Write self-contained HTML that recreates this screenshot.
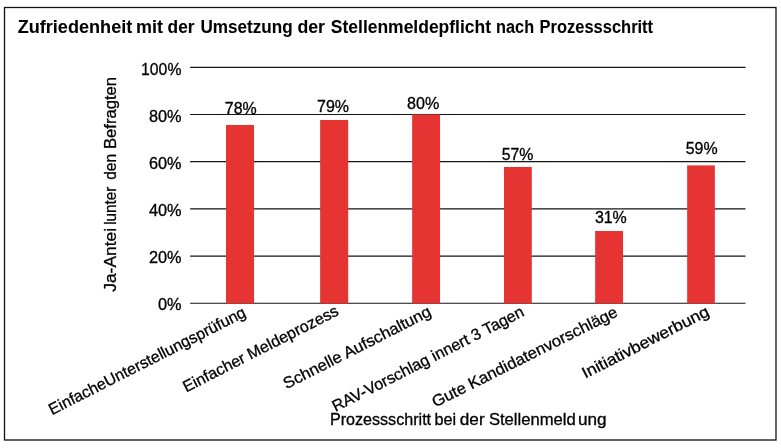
<!DOCTYPE html>
<html><head><meta charset="utf-8"><title>Chart</title>
<style>html,body{margin:0;padding:0;background:#fff;}body{width:781px;height:448px;overflow:hidden;}svg{display:block;will-change:transform;}text{font-family:"Liberation Sans",sans-serif;fill:#000;stroke:#000;stroke-width:0.3px;}text.b{font-weight:bold;stroke-width:0.05px;}</style></head><body>
<svg width="781" height="448" viewBox="0 0 781 448">
<rect x="0" y="0" width="781" height="448" fill="#fff"/>
<rect x="4.5" y="7.5" width="771.5" height="432.5" fill="none" stroke="#111" stroke-width="1.3"/>
<text x="17.65" y="32.7" font-size="17.5" class="b" textLength="114.65" lengthAdjust="spacingAndGlyphs">Zufriedenheit</text>
<text x="135.90" y="32.7" font-size="17.5" class="b" textLength="27.00" lengthAdjust="spacingAndGlyphs">mit</text>
<text x="167.60" y="32.7" font-size="17.5" class="b" textLength="26.95" lengthAdjust="spacingAndGlyphs">der</text>
<text x="200.40" y="32.7" font-size="17.5" class="b" textLength="92.30" lengthAdjust="spacingAndGlyphs">Umsetzung</text>
<text x="297.40" y="32.7" font-size="17.5" class="b" textLength="27.60" lengthAdjust="spacingAndGlyphs">der</text>
<text x="330.85" y="32.7" font-size="17.5" class="b" textLength="160.15" lengthAdjust="spacingAndGlyphs">Stellenmeldepflicht</text>
<text x="496.10" y="32.7" font-size="17.5" class="b" textLength="38.00" lengthAdjust="spacingAndGlyphs">nach</text>
<text x="539.60" y="32.7" font-size="17.5" class="b" textLength="113.50" lengthAdjust="spacingAndGlyphs">Prozessschritt</text>
<line x1="190.1" x2="745.5" y1="67.3" y2="67.3" stroke="#151515" stroke-width="1.2"/>
<line x1="190.1" x2="745.5" y1="114.49" y2="114.49" stroke="#151515" stroke-width="1.2"/>
<line x1="190.1" x2="745.5" y1="161.68" y2="161.68" stroke="#151515" stroke-width="1.2"/>
<line x1="190.1" x2="745.5" y1="208.87" y2="208.87" stroke="#151515" stroke-width="1.2"/>
<line x1="190.1" x2="745.5" y1="256.06" y2="256.06" stroke="#151515" stroke-width="1.2"/>
<line x1="190.1" x2="745.5" y1="303.25" y2="303.25" stroke="#151515" stroke-width="1.2"/>
<rect x="226.0" y="125.0" width="28.05" height="178.55" fill="#e63432"/>
<rect x="320.15" y="120.0" width="28.05" height="183.55" fill="#e63432"/>
<rect x="412.15" y="114.4" width="27.9" height="189.15" fill="#e63432"/>
<rect x="504.0" y="167.0" width="27.8" height="136.55" fill="#e63432"/>
<rect x="595.15" y="231.0" width="27.9" height="72.55" fill="#e63432"/>
<rect x="687.15" y="165.4" width="27.7" height="138.15" fill="#e63432"/>
<text x="141.1" y="75.0" font-size="16" textLength="40.3" lengthAdjust="spacingAndGlyphs">100%</text>
<text x="148.9" y="122.0" font-size="16" textLength="32.6" lengthAdjust="spacingAndGlyphs">80%</text>
<text x="148.9" y="169.0" font-size="16" textLength="32.6" lengthAdjust="spacingAndGlyphs">60%</text>
<text x="148.9" y="216.0" font-size="16" textLength="32.6" lengthAdjust="spacingAndGlyphs">40%</text>
<text x="148.9" y="263.0" font-size="16" textLength="32.6" lengthAdjust="spacingAndGlyphs">20%</text>
<text x="157.9" y="309.9" font-size="16" textLength="23.6" lengthAdjust="spacingAndGlyphs">0%</text>
<text x="224.80" y="114.3" font-size="16" textLength="31.90" lengthAdjust="spacingAndGlyphs">78%</text>
<text x="317.10" y="111.8" font-size="16" textLength="32.00" lengthAdjust="spacingAndGlyphs">79%</text>
<text x="407.10" y="108.8" font-size="16" textLength="32.20" lengthAdjust="spacingAndGlyphs">80%</text>
<text x="501.70" y="159.7" font-size="16" textLength="31.70" lengthAdjust="spacingAndGlyphs">57%</text>
<text x="594.90" y="222.6" font-size="16" textLength="31.90" lengthAdjust="spacingAndGlyphs">31%</text>
<text x="685.70" y="153.6" font-size="16" textLength="31.90" lengthAdjust="spacingAndGlyphs">59%</text>
<text transform="translate(115.6,291.80) rotate(-90)" font-size="16" textLength="64.00" lengthAdjust="spacingAndGlyphs">Ja-Antei</text>
<text transform="translate(115.6,224.80) rotate(-90)" font-size="16" textLength="38.00" lengthAdjust="spacingAndGlyphs">lunter</text>
<text transform="translate(115.6,179.80) rotate(-90)" font-size="16" textLength="26.00" lengthAdjust="spacingAndGlyphs">den</text>
<text transform="translate(115.6,149.00) rotate(-90)" font-size="16" textLength="72.10" lengthAdjust="spacingAndGlyphs">Befragten</text>
<text x="329.90" y="424.9" font-size="16" textLength="101.20" lengthAdjust="spacingAndGlyphs">Prozessschritt</text>
<text x="434.50" y="424.9" font-size="16" textLength="21.60" lengthAdjust="spacingAndGlyphs">bei</text>
<text x="459.80" y="424.9" font-size="16" textLength="24.80" lengthAdjust="spacingAndGlyphs">der</text>
<text x="488.90" y="424.9" font-size="16" textLength="86.90" lengthAdjust="spacingAndGlyphs">Stellenmeld</text>
<text x="577.90" y="424.9" font-size="16" textLength="28.60" lengthAdjust="spacingAndGlyphs">ung</text>
<text transform="translate(52.05,415.33) rotate(-27.0)" font-size="16" textLength="218.80" lengthAdjust="spacingAndGlyphs">EinfacheUnterstellungsprüfung</text>
<text transform="translate(186.18,392.62) rotate(-27.0)" font-size="16" textLength="172.30" lengthAdjust="spacingAndGlyphs">Einfacher Meldeprozess</text>
<text transform="translate(286.53,389.37) rotate(-27.0)" font-size="16" textLength="163.60" lengthAdjust="spacingAndGlyphs">Schnelle Aufschaltung</text>
<text transform="translate(335.52,412.00) rotate(-27.0)" font-size="16" textLength="213.00" lengthAdjust="spacingAndGlyphs">RAV-Vorschlag innert 3 Tagen</text>
<text transform="translate(435.15,407.61) rotate(-26.6)" font-size="16" textLength="205.50" lengthAdjust="spacingAndGlyphs">Gute Kandidatenvorschläge</text>
<text transform="translate(585.21,378.79) rotate(-27.0)" font-size="16" textLength="140.50" lengthAdjust="spacingAndGlyphs">Initiativbewerbung</text>
</svg></body></html>
